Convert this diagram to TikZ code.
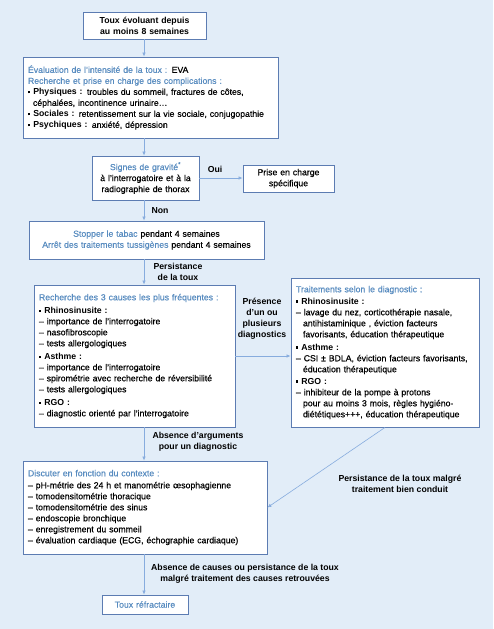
\documentclass[tikz,border=0pt]{standalone}
\usepackage{fontspec}
\setmainfont{Liberation Sans}[UprightFeatures={FakeBold=0.35}]
\usetikzlibrary{arrows.meta}
\definecolor{fond}{RGB}{226,237,248}
\definecolor{bord}{RGB}{92,124,178}
\definecolor{titre}{RGB}{88,140,192}
\definecolor{trait}{RGB}{135,172,222}
\newcommand{\tit}[1]{{\color{titre}#1}}
\newcommand{\puce}{\rule[0.3ex]{2.4pt}{2.4pt}\ }
\tikzset{
  boite/.style={draw=bord, fill=white, line width=0.9pt, inner xsep=5pt, inner ysep=2pt,
    font=\fontsize{8.7}{11}\selectfont},
  fleche/.style={draw=trait, line width=0.6pt, -{Latex[length=4pt,width=3.5pt]}},
  etiq/.style={font=\bfseries\fontsize{8.7}{11}\selectfont, align=center}
}
\begin{document}
\begin{tikzpicture}[x=1pt,y=-1pt]
  \fill[fond] (0,0) rectangle (493,629);
  \useasboundingbox (0,0) rectangle (493,629);
  \coordinate (axe) at (144,0);

  \node[boite, text width=113, minimum height=27, align=center, font=\bfseries\fontsize{8.7}{11}\selectfont]
    (debut) at (144.5,25.5) {Toux évoluant depuis\\au moins 8 semaines};
  \node[boite, text width=245, minimum height=81, align=left]
    (eval) at (150.5,97.5) {\tit{Évaluation de l'intensité de la toux :} EVA\\
      \tit{Recherche et prise en charge des complications :}\\
      \puce\textbf{Physiques :} troubles du sommeil, fractures de côtes,\\
      \hspace*{5pt}céphalées, incontinence urinaire…\\
      \puce\textbf{Sociales :} retentissement sur la vie sociale, conjugopathie\\
      \puce\textbf{Psychiques :} anxiété, dépression};
  \node[boite, text width=97, minimum height=44, align=center]
    (gravite) at (145.5,178) {\tit{Signes de gravité\textsuperscript{*}}\\à l'interrogatoire et à la\\radiographie de thorax};
  \node[boite, text width=81, minimum height=27, align=center]
    (prise) at (288.5,178.5) {Prise en charge\\spécifique};
  \node[boite, text width=225, minimum height=38, align=center]
    (tabac) at (146.5,240) {\tit{Stopper le tabac} pendant 4 semaines\\
      \tit{Arrêt des traitements tussigènes} pendant 4 semaines};
  \node[boite, text width=191, minimum height=142, align=left]
    (causes) at (134.5,356) {\tit{Recherche des 3 causes les plus fréquentes :}\\[2pt]
      \puce\textbf{Rhinosinusite :}\\
      – importance de l'interrogatoire\\
      – nasofibroscopie\\
      – tests allergologiques\\[2pt]
      \puce\textbf{Asthme :}\\
      – importance de l'interrogatoire\\
      – spirométrie avec recherche de réversibilité\\
      – tests allergologiques\\[2pt]
      \puce\textbf{RGO :}\\
      – diagnostic orienté par l'interrogatoire};
  \node[boite, text width=178, minimum height=149, align=left]
    (traite) at (385,352.5) {\tit{Traitements selon le diagnostic :}\\[1pt]
      \puce\textbf{Rhinosinusite :}\\
      – lavage du nez, corticothérapie nasale,\\
      \hspace*{7pt}antihistaminique , éviction facteurs\\
      \hspace*{7pt}favorisants, éducation thérapeutique\\[2pt]
      \puce\textbf{Asthme :}\\
      – CSI ± BDLA, éviction facteurs favorisants,\\
      \hspace*{7pt}éducation thérapeutique\\[1pt]
      \puce\textbf{RGO :}\\
      – inhibiteur de la pompe à protons\\
      \hspace*{7pt}pour au moins 3 mois, règles hygiéno-\\
      \hspace*{7pt}diététiques+++, éducation thérapeutique};
  \node[boite, text width=234, minimum height=93, align=left]
    (discuter) at (145,507.5) {\tit{Discuter en fonction du contexte :}\\[1pt]
      – pH-métrie des 24 h et manométrie œsophagienne\\
      – tomodensitométrie thoracique\\
      – tomodensitométrie des sinus\\
      – endoscopie bronchique\\
      – enregistrement du sommeil\\
      – évaluation cardiaque (ECG, échographie cardiaque)};
  \node[boite, text width=76, minimum height=19, align=center]
    (refract) at (145,604.5) {\tit{Toux réfractaire}};

  % etiquettes
  \node[etiq] (oui) at (215,169) {Oui};
  \node[etiq] (non) at (160,211) {Non};
  \node[etiq] (persist) at (178,272) {Persistance\\de la toux};
  \node[etiq] (presence) at (262,319) {Présence\\d'un ou\\plusieurs\\diagnostics};
  \node[etiq] (absarg) at (198,442) {Absence d'arguments\\pour un diagnostic};
  \node[etiq] (malgre) at (400,484) {Persistance de la toux malgré\\traitement bien conduit};
  \node[etiq] (abscause) at (245,574) {Absence de causes ou persistance de la toux\\malgré traitement des causes retrouvées};

  \begin{scope}[fleche]
    \draw (axe |- debut.south) to (axe |- eval.north);
    \draw (axe |- eval.south) to (axe |- gravite.north);
    \draw (gravite.east) to (gravite.east -| prise.west);
    \draw (axe |- gravite.south) to (axe |- tabac.north);
    \draw (axe |- tabac.south) to (axe |- causes.north);
    \draw (causes.east) to (causes.east -| traite.west);
    \draw (axe |- causes.south) to (axe |- discuter.north);
    \draw (traite.south) to (discuter.east);
    \draw (axe |- discuter.south) to (axe |- refract.north);
  \end{scope}
\end{tikzpicture}
\end{document}
